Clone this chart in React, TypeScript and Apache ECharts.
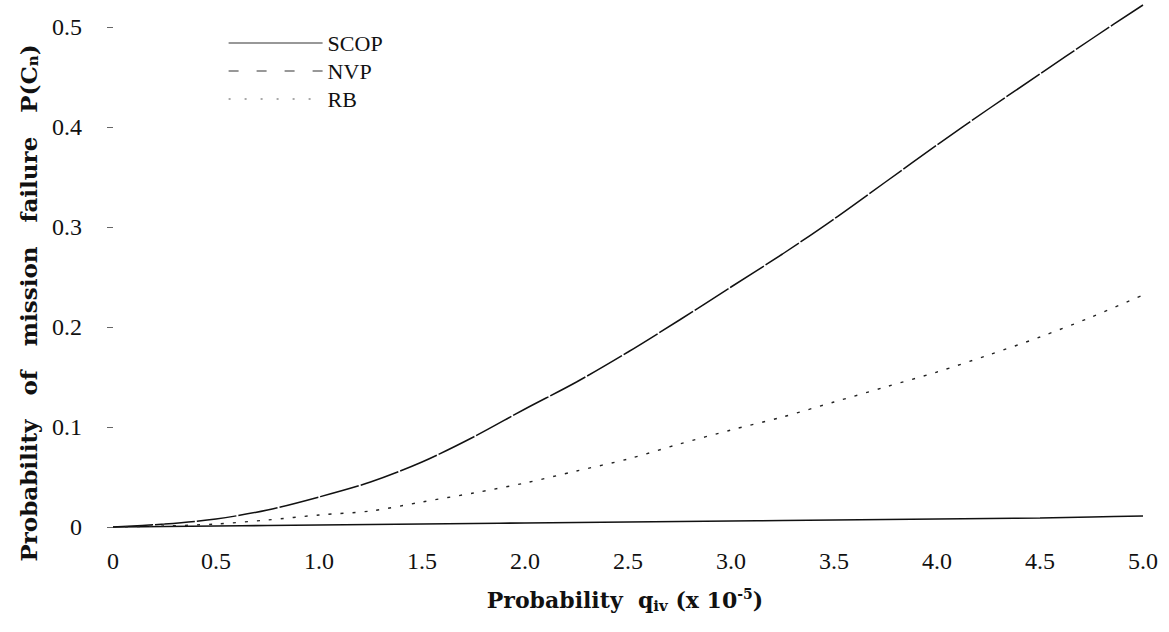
import React, { useEffect, useRef } from "react";
import * as echarts from "echarts";

const xValues = [0, 0.25, 0.5, 0.75, 1.0, 1.25, 1.5, 1.75, 2.0, 2.25, 2.5, 2.75, 3.0, 3.25, 3.5, 3.75, 4.0, 4.25, 4.5, 4.75, 5.0];
const scopValues = [0, 0.0005, 0.001, 0.0015, 0.002, 0.0025, 0.003, 0.0035, 0.004, 0.0045, 0.005, 0.0055, 0.006, 0.0065, 0.007, 0.0075, 0.008, 0.0085, 0.009, 0.01, 0.011];
const nvpValues = [0, 0.003, 0.008, 0.017, 0.03, 0.045, 0.065, 0.09, 0.118, 0.145, 0.175, 0.207, 0.24, 0.273, 0.308, 0.345, 0.382, 0.418, 0.453, 0.488, 0.522];
const rbValues = [0, 0.001, 0.003, 0.007, 0.012, 0.016, 0.025, 0.034, 0.044, 0.056, 0.068, 0.083, 0.097, 0.11, 0.125, 0.14, 0.155, 0.172, 0.19, 0.21, 0.232];
const seriesNames = ["SCOP", "NVP", "RB"];
const xTickInterval = 0.5;
const yTickInterval = 0.1;

const SERIF = "'Liberation Serif', 'Times New Roman', serif";
const BOLD_SERIF = "'DejaVu Serif', 'Liberation Serif', serif";

export default function App() {
  const ref = useRef<HTMLDivElement>(null);
  useEffect(() => {
    if (!ref.current) return;
    const chart = echarts.init(ref.current, null, { renderer: "svg" });
    const toPairs = (vals: number[]) => xValues.map((x, i) => [x, vals[i]]);
    const fmt = (v: number) => (v === 0 ? "0" : v.toFixed(1));
    chart.setOption({
      animation: false,
      backgroundColor: "#ffffff",
      color: ["#111111", "#111111", "#222222"],
      grid: { left: 113, right: 26, top: 27, bottom: 105, containLabel: false },
      legend: {
        orient: "vertical",
        left: 228,
        top: 32,
        padding: 0,
        itemWidth: 94,
        itemHeight: 14,
        itemGap: 6,
        itemStyle: { opacity: 0 },
        textStyle: { fontFamily: SERIF, fontSize: 22, color: "#111", lineHeight: 22 },
        data: [
          { name: seriesNames[0], itemStyle: { opacity: 0 }, lineStyle: { type: "solid", width: 1.2, color: "#333" } },
          { name: seriesNames[1], itemStyle: { opacity: 0 }, lineStyle: { type: [10, 18], width: 1.2, color: "#333" } },
          { name: seriesNames[2], itemStyle: { opacity: 0 }, lineStyle: { type: [2, 14], width: 1.2, color: "#555" } },
        ],
      },
      xAxis: {
        type: "value",
        min: 0,
        max: 5,
        interval: xTickInterval,
        axisLine: { show: false },
        axisTick: { show: false },
        splitLine: { show: false },
        axisLabel: { formatter: fmt, fontFamily: SERIF, fontSize: 24, color: "#111", margin: 22 },
      },
      yAxis: {
        type: "value",
        min: 0,
        max: 0.5,
        interval: yTickInterval,
        axisLine: { show: false },
        axisTick: { show: true, length: 6, lineStyle: { color: "#666", width: 1 } },
        splitLine: { show: false },
        axisLabel: { formatter: fmt, fontFamily: SERIF, fontSize: 24, color: "#111", margin: 31 },
      },
      graphic: [
        {
          type: "text",
          x: 28,
          y: 303,
          rotation: Math.PI / 2,
          style: {
            text: "Probability   of   mission   failure   P(C{sub|n})",
            fontFamily: BOLD_SERIF,
            fontWeight: "bold",
            fontSize: 23,
            fill: "#111",
            align: "center",
            verticalAlign: "middle",
            rich: {
              sub: { fontFamily: BOLD_SERIF, fontWeight: "bold", fontSize: 15, verticalAlign: "bottom", padding: [9, 0, 0, 0] },
            },
          },
        },
        {
          type: "text",
          x: 625,
          y: 600,
          style: {
            text: "Probability  q{sub|iv} (x 10{sup|-5})",
            fontFamily: BOLD_SERIF,
            fontWeight: "bold",
            fontSize: 22,
            fill: "#111",
            align: "center",
            verticalAlign: "middle",
            rich: {
              sub: { fontFamily: BOLD_SERIF, fontWeight: "bold", fontSize: 15, padding: [11, 0, 0, 0] },
              sup: { fontFamily: BOLD_SERIF, fontWeight: "bold", fontSize: 14, padding: [0, 0, 13, 0] },
            },
          },
        },
      ],
      series: [
        {
          name: seriesNames[0],
          type: "line",
          data: toPairs(scopValues),
          showSymbol: false,
          symbol: "none",
          smooth: 0.3,
          clip: false,
          itemStyle: { color: "#111" },
          lineStyle: { type: "solid", width: 1.6, color: "#111" },
        },
        {
          name: seriesNames[1],
          type: "line",
          data: toPairs(nvpValues),
          showSymbol: false,
          symbol: "none",
          smooth: 0.3,
          clip: false,
          itemStyle: { color: "#111" },
          lineStyle: { type: [40, 2], width: 1.5, color: "#111" },
        },
        {
          name: seriesNames[2],
          type: "line",
          data: toPairs(rbValues),
          showSymbol: false,
          symbol: "none",
          smooth: 0.3,
          clip: false,
          itemStyle: { color: "#222" },
          lineStyle: { type: [3, 9], width: 1.4, color: "#222" },
        },
      ],
    });
    return () => chart.dispose();
  }, []);
  return <div ref={ref} style={{ width: 1169, height: 632, position: "absolute", left: 0, top: 0 }} />;
}
